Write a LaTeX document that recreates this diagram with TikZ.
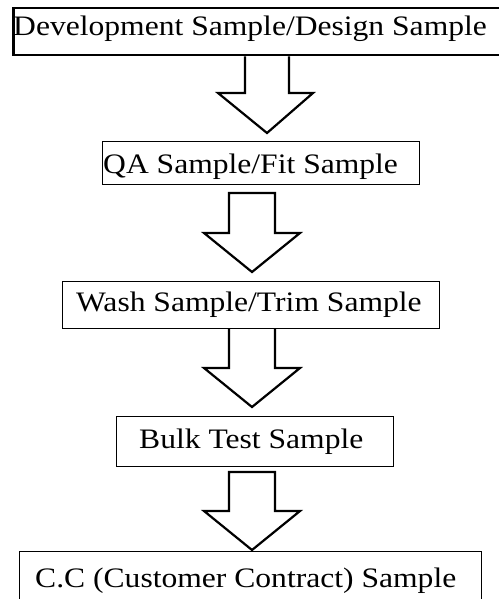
\documentclass[tikz,border=0pt]{standalone}
\usepackage{fontspec}
\setmainfont{Liberation Serif}[FakeStretch=1.12]
\begin{document}
\begin{tikzpicture}[x=1pt,y=-1pt,
  box/.style={draw=black,rectangle,inner sep=0pt,anchor=north west,line width=1.2pt},
  lbl/.style={inner sep=0pt,anchor=base west,font=\fontsize{28.2}{33}\selectfont},
  blk/.style={draw=black,fill=white,line width=2.2pt,miter limit=10}]
\useasboundingbox (0,0) rectangle (498,599);
% boxes
\node[box,line width=2.5pt,minimum width=488pt,minimum height=47pt] (b1) at (12,7) {};
\node[box,minimum width=317pt,minimum height=43pt] (b2) at (102,141) {};
\node[box,minimum width=377pt,minimum height=47pt] (b3) at (62,281) {};
\node[box,minimum width=277pt,minimum height=50pt] (b4) at (116,416) {};
\node[box,minimum width=462pt,minimum height=60pt] (b5) at (19,551) {};
% labels
\node[lbl] (t1) at (13,36) {Development Sample/Design Sample};
\node[lbl] (t2) at (103,173) {QA Sample/Fit Sample};
\node[lbl] (t3) at (76,311) {Wash Sample/Trim Sample};
\node[lbl] (t4) at (139,448) {Bulk Test Sample};
\node[lbl] (t5) at (35,587) {C.C (Customer Contract) Sample};
% block arrows
\draw[blk] (245,0 |- b1.south) -- (245,93) -- (218,93) -- (267,133) -- (313,93) -- (289,93) -- (289,0 |- b1.south);
\draw[blk] (229,193) -- (229,233) -- (204,233) -- (252,272) -- (300,233) -- (275,233) -- (275,193) -- cycle;
\draw[blk] (229,0 |- b3.south) -- (229,368) -- (204,368) -- (252,407) -- (300,368) -- (275,368) -- (275,0 |- b3.south);
\draw[blk] (229,472) -- (229,511) -- (204,511) -- (252,550) -- (300,511) -- (275,511) -- (275,472) -- cycle;
\end{tikzpicture}
\end{document}
